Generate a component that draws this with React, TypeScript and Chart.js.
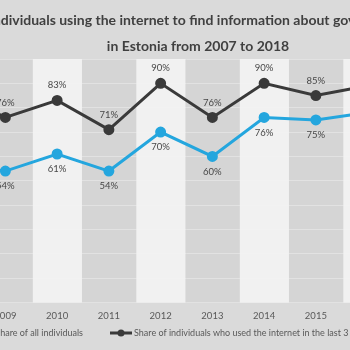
import React, { useEffect, useRef } from "react";
import { Chart, registerables } from "chart.js";

Chart.register(...registerables);

// ---- data ----
const years = ["2007", "2008", "2009", "2010", "2011", "2012", "2013", "2014", "2015", "2016", "2017", "2018"];
const allIndividuals = [47, 56, 54, 61, 54, 70, 60, 76, 75, 78, 77, 80];
const internetUsers = [82, 87, 76, 83, 71, 90, 76, 90, 85, 89, 88, 91];
const seriesLabels = [
  "Share of all individuals",
  "Share of individuals who used the internet in the last 3 months",
];
const seriesColors = ["#24a6de", "#3a3a3a"];
const titleLines = [
  "Share of individuals using the internet to find information about government services",
  "in Estonia from 2007 to 2018",
];
const yMin = 0;
const yMax = 100;
const yStep = 10;

// ---- layout / style ----
const FONT = "Lato, 'Open Sans', sans-serif";
const CANVAS_LEFT = -150;
const CANVAS_W = 680;
const CANVAS_H = 350;
const LEGEND_SPLIT = 246.5; // canvas x between the two legend items
const LEGEND_Y = 333;

const bandsPlugin = {
  id: "bands",
  beforeDraw(chart: any) {
    const { ctx, chartArea: a } = chart;
    ctx.save();
    ctx.fillStyle = "#d5d5d5";
    ctx.fillRect(a.left, a.top, a.right - a.left, a.bottom - a.top);
    ctx.restore();
  },
  beforeDatasetsDraw(chart: any) {
    const { ctx, chartArea: a, scales } = chart;
    const xs = scales.x;
    const w = (a.right - a.left) / years.length;
    ctx.save();
    ctx.fillStyle = "rgba(242,242,242,0.95)";
    years.forEach((_, i) => {
      if (i % 2 === 1) {
        const cx = xs.getPixelForValue(i);
        ctx.fillRect(cx - w * 0.47, a.top, w * 0.95, a.bottom - a.top);
      }
    });
    ctx.restore();
  },
};

const labelsPlugin = {
  id: "valueLabels",
  afterDatasetsDraw(chart: any) {
    const ctx = chart.ctx;
    ctx.save();
    ctx.font = `9.5px ${FONT}`;
    ctx.fillStyle = "#474747";
    ctx.textAlign = "center";
    ctx.textBaseline = "middle";
    chart.data.datasets.forEach((ds: any, di: number) => {
      const meta = chart.getDatasetMeta(di);
      meta.data.forEach((pt: any, i: number) => {
        const dy = di === 0 ? 15 : -15;
        ctx.fillText(`${ds.data[i]}%`, pt.x, pt.y + dy);
      });
    });
    ctx.restore();
  },
};

const legendPlugin = {
  id: "customLegend",
  afterDraw(chart: any) {
    const ctx = chart.ctx;
    ctx.save();
    ctx.font = `9px ${FONT}`;
    ctx.textBaseline = "middle";
    ctx.textAlign = "left";
    const y = LEGEND_Y;
    const drawMarker = (x0: number, color: string) => {
      ctx.strokeStyle = color;
      ctx.lineWidth = 3;
      ctx.beginPath();
      ctx.moveTo(x0, y);
      ctx.lineTo(x0 + 22, y);
      ctx.stroke();
      ctx.fillStyle = color;
      ctx.beginPath();
      ctx.arc(x0 + 11, y, 3.5, 0, Math.PI * 2);
      ctx.fill();
    };
    const t1w = ctx.measureText(seriesLabels[0]).width;
    const t1End = LEGEND_SPLIT - 13.5;
    const t1Start = t1End - t1w;
    drawMarker(t1Start - 24, seriesColors[0]);
    ctx.fillStyle = "#595959";
    ctx.fillText(seriesLabels[0], t1Start, y);
    const m2 = LEGEND_SPLIT + 13.5;
    drawMarker(m2, seriesColors[1]);
    ctx.fillStyle = "#595959";
    ctx.fillText(seriesLabels[1], m2 + 24, y);
    ctx.restore();
  },
};

export default function App() {
  const ref = useRef<HTMLCanvasElement>(null);

  useEffect(() => {
    const canvas = ref.current;
    if (!canvas) return;
    const chart = new Chart(canvas, {
      type: "line",
      data: {
        labels: years,
        datasets: [
          {
            label: seriesLabels[0],
            data: allIndividuals,
            borderColor: seriesColors[0],
            backgroundColor: seriesColors[0],
            pointBackgroundColor: seriesColors[0],
            pointBorderColor: seriesColors[0],
            borderWidth: 3,
            pointRadius: 4,
            tension: 0,
          },
          {
            label: seriesLabels[1],
            data: internetUsers,
            borderColor: seriesColors[1],
            backgroundColor: seriesColors[1],
            pointBackgroundColor: seriesColors[1],
            pointBorderColor: seriesColors[1],
            borderWidth: 3,
            pointRadius: 4,
            tension: 0,
          },
        ],
      },
      options: {
        responsive: false,
        animation: false,
        devicePixelRatio: 1,
        layout: { padding: { left: 26, right: 10, top: 0, bottom: 28 } },
        plugins: {
          legend: { display: false },
          tooltip: { enabled: false },
          title: {
            display: true,
            text: titleLines,
            color: "#404040",
            font: { family: FONT, size: 14, weight: "bold", lineHeight: 26 / 14 },
            padding: { top: 7, bottom: 0 },
          },
        },
        scales: {
          x: {
            offset: true,
            grid: { display: false },
            border: { display: false },
            ticks: {
              color: "#595959",
              font: { family: FONT, size: 9.5 },
              padding: 0,
              maxRotation: 0,
              autoSkip: false,
            },
          },
          y: {
            min: yMin,
            max: yMax,
            grid: { color: "#e2e2e2", drawTicks: false, lineWidth: 1 },
            border: { display: false },
            ticks: { display: false, stepSize: yStep },
          },
          y2: {
            position: "right",
            display: true,
            grid: { display: false },
            border: { display: false },
            ticks: { display: false },
            afterFit: (s: any) => {
              s.width = 23;
            },
          },
        },
      } as any,
      plugins: [bandsPlugin, labelsPlugin, legendPlugin],
    });
    return () => chart.destroy();
  }, []);

  return (
    <div
      style={{
        position: "fixed",
        left: 0,
        top: 0,
        width: 350,
        height: 350,
        overflow: "hidden",
        background: "#dadada",
      }}
    >
      <canvas
        ref={ref}
        width={CANVAS_W}
        height={CANVAS_H}
        style={{ position: "absolute", left: CANVAS_LEFT, top: 0, width: CANVAS_W, height: CANVAS_H }}
      />
    </div>
  );
}
